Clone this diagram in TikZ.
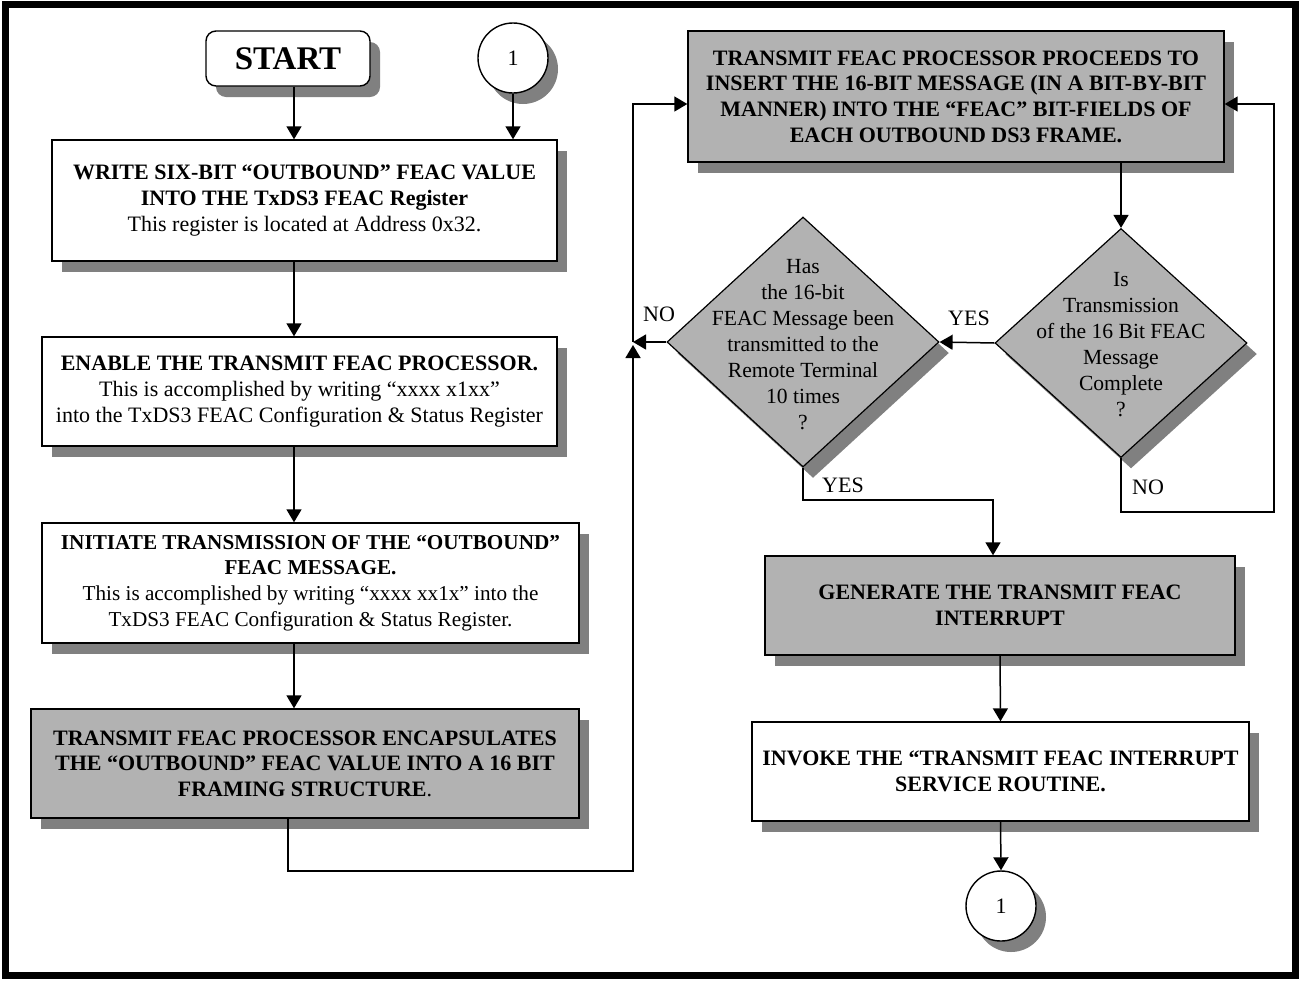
\documentclass[tikz,border=0pt]{standalone}
\usepackage{fontspec}
\setmainfont{Liberation Serif}
\usepackage{tikz}
\usetikzlibrary{arrows.meta,positioning,shapes.geometric,shadows}
\definecolor{boxgray}{gray}{0.70}
\definecolor{shadegray}{gray}{0.50}
\tikzset{
  castshadow/.style = {drop shadow={shadow xshift=5pt, shadow yshift=-5.5pt,
                       fill=shadegray, opacity=1}},
  block/.style      = {draw, line width=0.7pt, rectangle, align=center,
                       inner sep=0pt, castshadow,
                       font=\fontsize{11}{12.8}\selectfont},
  whiteblock/.style = {block, fill=white},
  greyblock/.style  = {block, fill=boxgray},
  startbox/.style   = {draw, line width=0.7pt, rounded corners=5pt, fill=white,
                       castshadow, minimum width=82pt, minimum height=27.5pt,
                       font=\bfseries\fontsize{16.5}{19}\selectfont},
  decision/.style   = {draw, line width=0.6pt, diamond, inner sep=0pt,
                       fill=boxgray, castshadow},
  qtext/.style      = {align=center, font=\fontsize{10.8}{13}\selectfont},
  connector/.style  = {draw, line width=0.7pt, circle, inner sep=0pt,
                       minimum size=35pt, fill=white, castshadow,
                       font=\fontsize{11}{12}\selectfont},
  answer/.style     = {inner sep=0pt, font=\fontsize{11}{12}\selectfont},
  sig/.style        = {-{Triangle[length=6.5pt,width=7.5pt]}, line width=0.75pt},
}

\begin{document}
\begin{tikzpicture}[x=0.5pt, y=-0.5pt]
\useasboundingbox (0,0) rectangle (1299,980);
\draw[line width=3.5pt] (5,4) rectangle (1295,975);

% ---- left column ----
\node[startbox] (start) at (288,58.5) {START};
\node[connector] (conn1) at (513,58) {1};
\node[whiteblock, minimum width=252.5pt, minimum height=60.5pt] (write) at (304.5,200.5)
  {\textbf{WRITE SIX-BIT “OUTBOUND” FEAC VALUE}\\
   \textbf{INTO THE TxDS3 FEAC Register}\\
   This register is located at Address 0x32.};
\node[whiteblock, minimum width=257.5pt, minimum height=54.5pt] (enable) at (299.5,391.5)
  {\textbf{ENABLE THE TRANSMIT FEAC PROCESSOR.}\\
   This is accomplished by writing “xxxx x1xx”\\
   into the TxDS3 FEAC Configuration \& Status Register};
\node[whiteblock, minimum width=268.5pt, minimum height=60pt,
      font=\fontsize{10.6}{12.8}\selectfont] (initiate) at (310.5,583)
  {\textbf{INITIATE TRANSMISSION OF THE “OUTBOUND”}\\
   \textbf{FEAC MESSAGE.}\\
   This is accomplished by writing “xxxx xx1x” into the\\
   TxDS3 FEAC Configuration \& Status Register.};
\node[greyblock, minimum width=274pt, minimum height=54.5pt] (encap) at (305,763.5)
  {\textbf{TRANSMIT FEAC PROCESSOR ENCAPSULATES}\\
   \textbf{THE “OUTBOUND” FEAC VALUE INTO A 16 BIT}\\
   \textbf{FRAMING STRUCTURE}.};

% ---- right column ----
\node[greyblock, minimum width=268pt, minimum height=65.5pt,
      font=\bfseries\fontsize{11}{12.8}\selectfont] (insert) at (956,96.5)
  {TRANSMIT FEAC PROCESSOR PROCEEDS TO\\
   INSERT THE 16-BIT MESSAGE (IN A BIT-BY-BIT\\
   MANNER) INTO THE “FEAC” BIT-FIELDS OF\\
   EACH OUTBOUND DS3 FRAME.};
\node[decision, minimum width=136pt, minimum height=125pt,
      label={[qtext, yshift=-1.5pt]center:{Has\\the 16-bit\\FEAC Message been\\
        transmitted to the\\Remote Terminal\\10 times\\?}}] (chk10) at (803,342) {};
\node[decision, minimum width=126pt, minimum height=114.5pt,
      label={[qtext, yshift=-1pt]center:{Is\\Transmission\\of the 16 Bit FEAC\\
        Message\\Complete\\?}}] (chkdone) at (1121,343) {};
\node[greyblock, minimum width=235pt, minimum height=49.5pt,
      font=\bfseries\fontsize{11}{13}\selectfont] (geni) at (1000,605.5)
  {GENERATE THE TRANSMIT FEAC\\INTERRUPT};
\node[whiteblock, minimum width=248.5pt, minimum height=49.5pt,
      font=\bfseries\fontsize{11}{13}\selectfont] (invoke) at (1000.5,771.5)
  {INVOKE THE “TRANSMIT FEAC INTERRUPT\\SERVICE ROUTINE.};
\node[connector] (conn2) at (1001,906) {1};

% ---- turning points ----
\coordinate (lcol) at (294,0);
\coordinate (jn) at (633,342);
\coordinate (lowrun) at (288,871);
\coordinate (rrun) at (1274,512);
\coordinate (yrun) at (993,500);

% ---- connectors ----
\draw[sig] (start.south -| lcol) -- (write.north -| lcol);
\draw[sig] (conn1) -- (conn1 |- write.north);
\draw[sig] (write.south -| lcol) -- (enable.north -| lcol);
\draw[sig] (enable.south -| lcol) -- (initiate.north -| lcol);
\draw[sig] (initiate.south -| lcol) -- (encap.north -| lcol);
\draw[sig] (encap.south -| lowrun) -- (lowrun) -| ([yshift=-1.5pt]jn);
\draw[sig] (chk10.west) -- (jn);
\draw[sig] (jn) |- ([yshift=-3.75pt]insert.west);
\draw[sig] (insert.south -| chkdone) -- (chkdone.north);
\draw[sig] (chkdone.west) -- (chk10.east);
\draw[sig] (chkdone.south) |- (rrun) |- ([yshift=-3.75pt]insert.east);
\draw[sig] (chk10.south) |- (yrun) -- (geni.north -| yrun);
\draw[sig] (geni.south) -- (invoke.north);
\draw[sig] (invoke.south) -- (conn2.north);

% ---- answers ----
\node[answer] (no1) at (659,314) {NO};
\node[answer] (yes1) at (969,318) {YES};
\node[answer] (yes2) at (843,485) {YES};
\node[answer] (no2) at (1148,487) {NO};
\end{tikzpicture}
\end{document}
